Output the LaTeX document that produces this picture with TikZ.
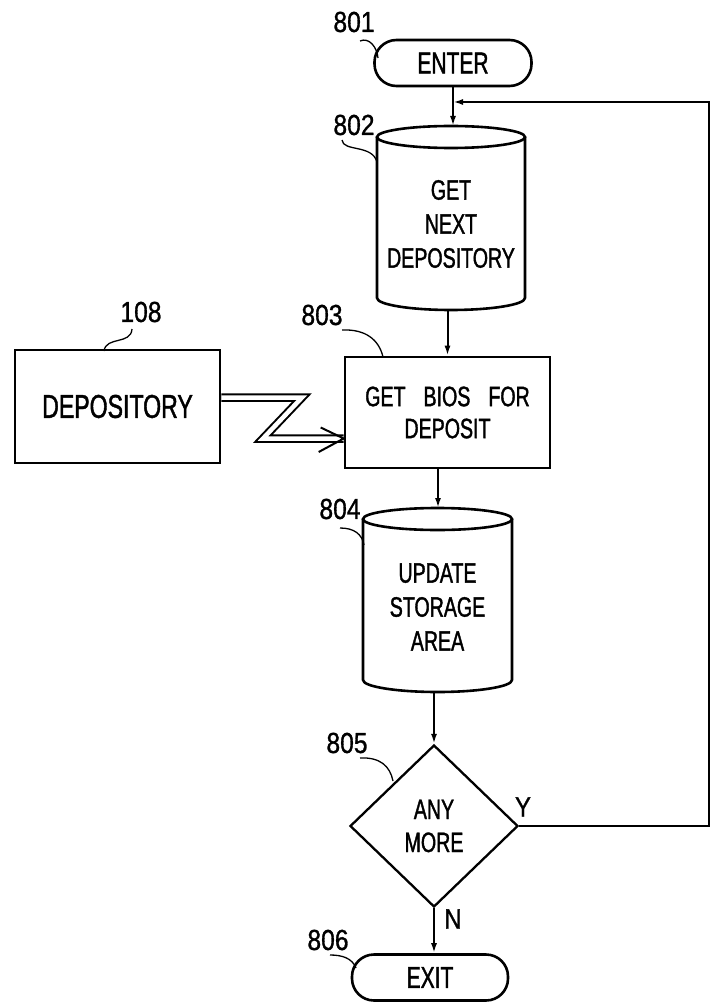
\documentclass[tikz,border=0pt]{standalone}
\usepackage{fontspec}
\setmainfont{Liberation Sans}
\newfontfamily\lett{Liberation Sans}[FakeStretch=0.7,FakeBold=1.3]
\newfontfamily\numf{Liberation Sans}[FakeStretch=0.85,FakeBold=1]
\usetikzlibrary{shapes.geometric,arrows.meta}
\newcommand\mycyl[4]{% cx, top-centre y, bottom-centre y, x radius
  \draw[line width=2.6pt] (#1,#2) ellipse [x radius=#4pt, y radius=11pt];
  \draw[line width=2.6pt, line join=round] (#1-#4,#2) -- (#1-#4,#3)
     .. controls (#1-#4,#3+6.6) and (#1-0.552*#4,#3+12) .. (#1,#3+12)
     .. controls (#1+0.552*#4,#3+12) and (#1+#4,#3+6.6) .. (#1+#4,#3)
     -- (#1+#4,#2);
}
\begin{document}
\begin{tikzpicture}[x=1pt,y=-1pt,
  boxline/.style={draw, line width=2.6pt},
  conn/.style={line width=2pt},
  arr/.style={conn, -{Latex[length=10pt,width=6pt]}},
  lead/.style={line width=1.3pt},
  lbl/.style={font=\numf\fontsize{29}{32}\selectfont, inner sep=0pt},
  txt/.style={font=\lett\fontsize{28}{34}\selectfont, align=center, inner sep=0pt},
  term/.style={boxline, rounded corners=22pt, minimum width=157pt, minimum height=46pt, inner sep=0pt, font=\lett\fontsize{30}{34}\selectfont},
]
\useasboundingbox (0,0) rectangle (711,1008);
\fill[white] (0,0) rectangle (711,1008);

% ENTER
\node[term] (enter) at (453,63) {ENTER};
\node[lbl] (l801) at (354,22) {801};
\draw[lead] (360,41) .. controls (369,37) and (377,47) .. (378,58);

% 802 cylinder
\mycyl{451}{137}{298}{74}
\node[txt] (c802) at (451,224) {GET\\NEXT\\DEPOSITORY};
\coordinate (c802t) at (453,126);
\coordinate (c802b) at (447.5,310);
\node[lbl] (l802) at (354,125) {802};
\draw[lead] (342,140) .. controls (343,152) and (372,144) .. (377,162);

% 803 box
\node[boxline, txt, minimum width=205pt, minimum height=111pt,
      font={\lett\fontsize{28}{32}\selectfont\spaceskip=18pt\relax}]
      (b803) at (447.5,412.5) {GET BIOS FOR\\DEPOSIT};
\node[lbl] (l803) at (322,315) {803};
\draw[lead] (342,330) .. controls (366,329) and (379,340) .. (383,357);

% 108 box
\node[boxline, txt, minimum width=205pt, minimum height=113pt,
      font={\lett\fontsize{33}{36}\selectfont}]
      (d108) at (117.5,406.5) {DEPOSITORY};
\node[lbl] (l108) at (141,312) {108};
\draw[lead] (104,351) .. controls (106,336) and (131,345) .. (132,329);

% 804 cylinder
\mycyl{437.5}{519}{680}{74.5}
\node[txt] (c804) at (437.5,607) {UPDATE\\STORAGE\\AREA};
\coordinate (c804t) at (438,508);
\coordinate (c804b) at (434,692);
\node[lbl] (l804) at (340,509) {804};
\draw[lead] (340,528) .. controls (354,528) and (362,534) .. (364,545);

% 805 diamond
\node[diamond, draw, line width=2.3pt, minimum width=168pt, minimum height=162pt,
      inner sep=0pt, txt, font={\lett\fontsize{28}{33}\selectfont}]
      (dia) at (434,826) {ANY\\MORE};
\node[lbl] (l805) at (347,743) {805};
\draw[lead] (360,758) .. controls (380,757) and (390,766) .. (393,781);
\node[lbl, font=\numf\fontsize{28}{30}\selectfont] (ly) at (523,807) {Y};
\node[lbl, font=\numf\fontsize{28}{30}\selectfont] (ln) at (453,919) {N};

% EXIT
\node[term, minimum width=156pt] (exit) at (430,977.5) {EXIT};
\node[lbl] (l806) at (328,940) {806};
\draw[lead] (330,955) .. controls (342,955) and (352,958) .. (356,968);

% connectors
\coordinate (join) at (453,102);
\draw[conn] (enter.south) -- (join);
\draw[arr] (join) -- (c802t);
\draw[arr] (c802b) -- (b803.north);
\draw[arr] ([xshift=-9.5pt]b803.south) -- (c804t);
\draw[arr] (c804b) -- (dia.north);
\draw[arr] (dia.south) -- (dia.south |- exit.north);
\draw[arr] (dia.east) -- (709,826) -- (709,102) -- (join);

% communication link 108 -> 803
\draw[line width=2pt, double distance=4.5pt, line join=miter]
  ([yshift=9pt]d108.east) -- (302,397.5) -- (263,438.5) -- ([yshift=-26pt]b803.west);
\draw[conn, line join=miter] ([xshift=-23pt,yshift=-15pt]b803.west)
  -- ([yshift=-26pt]b803.west) -- ([xshift=-25pt,yshift=-39.5pt]b803.west);
\end{tikzpicture}
\end{document}
